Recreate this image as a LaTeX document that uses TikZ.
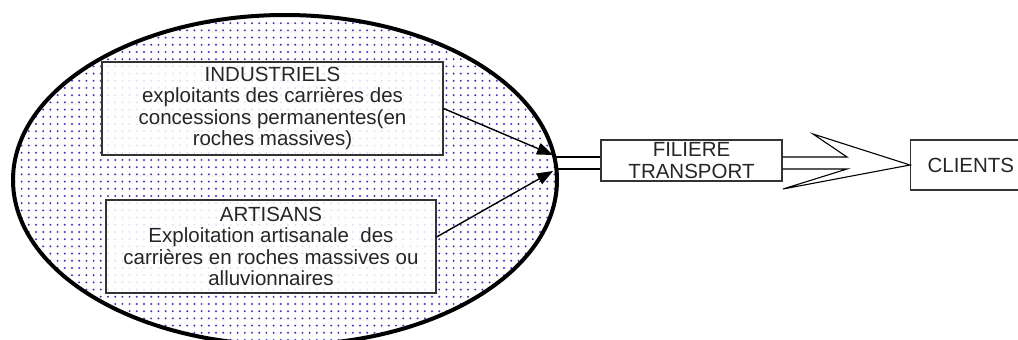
\documentclass[tikz,border=0pt]{standalone}
\usepackage{fontspec}
\setmainfont{Liberation Sans}
\usetikzlibrary{arrows.meta,patterns.meta,shapes.geometric}
\definecolor{dotblue}{RGB}{60,50,215}
\tikzset{
  txt/.style={font=\fontsize{20.5}{21.5}\selectfont, align=center, text=black!85},
  actorbox/.style={txt, draw=black!80, line width=1.1pt, fill=white, fill opacity=0.85, text opacity=1,
    minimum width=#1, inner sep=0pt},
  plainbox/.style={txt, draw=black!80, line width=1.1pt, fill=white, inner sep=0pt},
  feed/.style={line width=1.4pt, -{Triangle[length=16pt,width=12pt]}},
  pipe/.style={line width=1.1pt},
}
\begin{document}
\begin{tikzpicture}[x=1pt,y=-1pt]
\useasboundingbox (0,0) rectangle (1018,340);
\clip (0,0) rectangle (1018,340);

% producers' area
\node (zone) [ellipse, draw, line width=4pt, minimum width=544pt, minimum height=330pt,
  pattern={Dots[distance=7.2pt, radius=1.1pt, angle=0]}, pattern color=dotblue] at (285,180) {};

% producer boxes
\node (ind) [actorbox=341pt, minimum height=93pt] at (272.5,108.5)
  {INDUSTRIELS\\exploitants des carrières des\\concessions permanentes(en\\roches massives)};
\node (art) [actorbox=330pt, minimum height=93pt] at (271,246.5)
  {ARTISANS\\Exploitation artisanale\ \ des\\carrières en roches massives ou\\alluvionnaires};

% transport and clients
\node (fil) [plainbox, minimum width=181pt, minimum height=41pt] at (691.5,160.5) {FILIERE\\TRANSPORT};
\node (cli) [plainbox, anchor=west, minimum height=50pt, inner xsep=17pt, align=left] at (910,165) {CLIENTS};

% where the flows reach the edge of the area
\coordinate (tipA) at (553,155);
\coordinate (tipB) at (553,171);
\coordinate (outA) at (555,157);
\coordinate (outB) at (556,169);

\draw[feed] (ind.east) -- (tipA);
\draw[feed] ([yshift=9.5pt]art.east) -- (tipB);

% double line from the area to the transport chain
\draw[pipe] (outA) -- (fil.west |- outA);
\draw[pipe] (outB) -- (fil.west |- outB);

% hollow arrow towards the clients
\coordinate (hA) at (fil.east |- outA);
\coordinate (hB) at (fil.east |- outB);
\draw[pipe, line join=miter] (hA) -- (847,157) -- (813,134) -- (cli.west) -- (783,189) -- (847,169) -- (hB);
\end{tikzpicture}
\end{document}
